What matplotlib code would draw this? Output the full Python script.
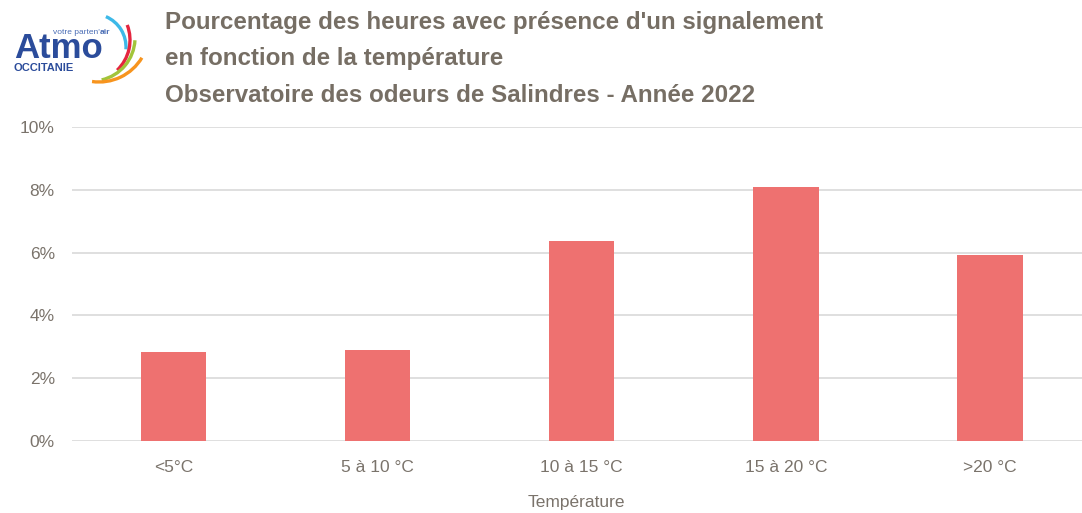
import matplotlib.pyplot as plt
from matplotlib.patches import Arc
from matplotlib.ticker import PercentFormatter

plt.rcParams['font.family'] = ['Liberation Sans', 'DejaVu Sans']

# Data
categories = ['<5°C', '5 à 10 °C', '10 à 15 °C', '15 à 20 °C', '>20 °C']
percent_hours = [2.83, 2.91, 6.37, 8.09, 5.92]
title_lines = ["Pourcentage des heures avec présence d'un signalement",
               "en fonction de la température",
               "Observatoire des odeurs de Salindres - Année 2022"]

title_gray = '#766E64'
text_gray = '#7A736B'
bar_color = '#EE7170'
grid_color = '#D9D9D9'

W, H = 1082, 513
fig = plt.figure(figsize=(W / 100, H / 100), dpi=100)

left = 71.5 / W
bottom = 1 - 441 / H
height = (441 - 127) / H
ax = fig.add_axes([left, bottom, 1 - left, height])

x = range(len(categories))
ax.bar(x, percent_hours, width=0.32, color=bar_color, zorder=3)

ax.set_ylim(0, 10)
ax.set_yticks([0, 2, 4, 6, 8, 10])
ax.yaxis.set_major_formatter(PercentFormatter(decimals=0))
ax.set_xlim(-0.5, -0.5 + (W - 71.5) / 204.1)
ax.set_xticks(list(x))
ax.set_xticklabels(categories)
ax.grid(axis='y', color=grid_color, linewidth=1.2, zorder=0)
for s in ax.spines.values():
    s.set_visible(False)
ax.tick_params(length=0, colors=text_gray, labelsize=12.5)
ax.tick_params(axis='y', pad=12)
ax.tick_params(axis='x', pad=14)
ax.set_xlabel('Température', color=text_gray, fontsize=12.5, labelpad=14)

# Title
for i, line in enumerate(title_lines):
    fig.text(165 / W, 1 - (22 + i * 37) / H, line, color=title_gray,
             fontsize=17.4, fontweight='bold', va='center', ha='left')

# Logo
blue = '#2B4C9B'
fig.text(14 / W, 1 - 58 / H, 'Atmo', color=blue, fontsize=25, fontweight='bold',
         va='baseline', ha='left')
fig.text(13 / W, 1 - 71 / H, 'OCCITANIE', color=blue, fontsize=8, fontweight='bold',
         va='baseline', ha='left')
fig.text(53 / W, 1 - 34 / H, "votre parten'", color='#4A6DB5', fontsize=6,
         va='baseline', ha='left')
fig.text(99.5 / W, 1 - 34 / H, 'air', color='#4A6DB5', fontsize=6, fontweight='bold',
         va='baseline', ha='left')
logo_ax = fig.add_axes([0, 1 - 100 / H, 160 / W, 100 / H])
logo_ax.set_xlim(0, 160)
logo_ax.set_ylim(100, 0)
logo_ax.axis('off')
# (centre x, centre y, radius, colour, visual start angle, visual end angle)
arcs = [(93, 47, 33, '#3DB9E8', -4, 67),
        (88, 40, 42, '#E4253F', -46, 21),
        (92, 38, 43, '#A2C43A', -77, -3),
        (99, 32, 50, '#F7941E', -98, -31)]
for cx, cy, r, c, a1, a2 in arcs:
    logo_ax.add_patch(Arc((cx, cy), 2 * r, 2 * r, theta1=-a2, theta2=-a1, color=c,
                          linewidth=2.4))

fig.savefig('out.png', dpi=100)
